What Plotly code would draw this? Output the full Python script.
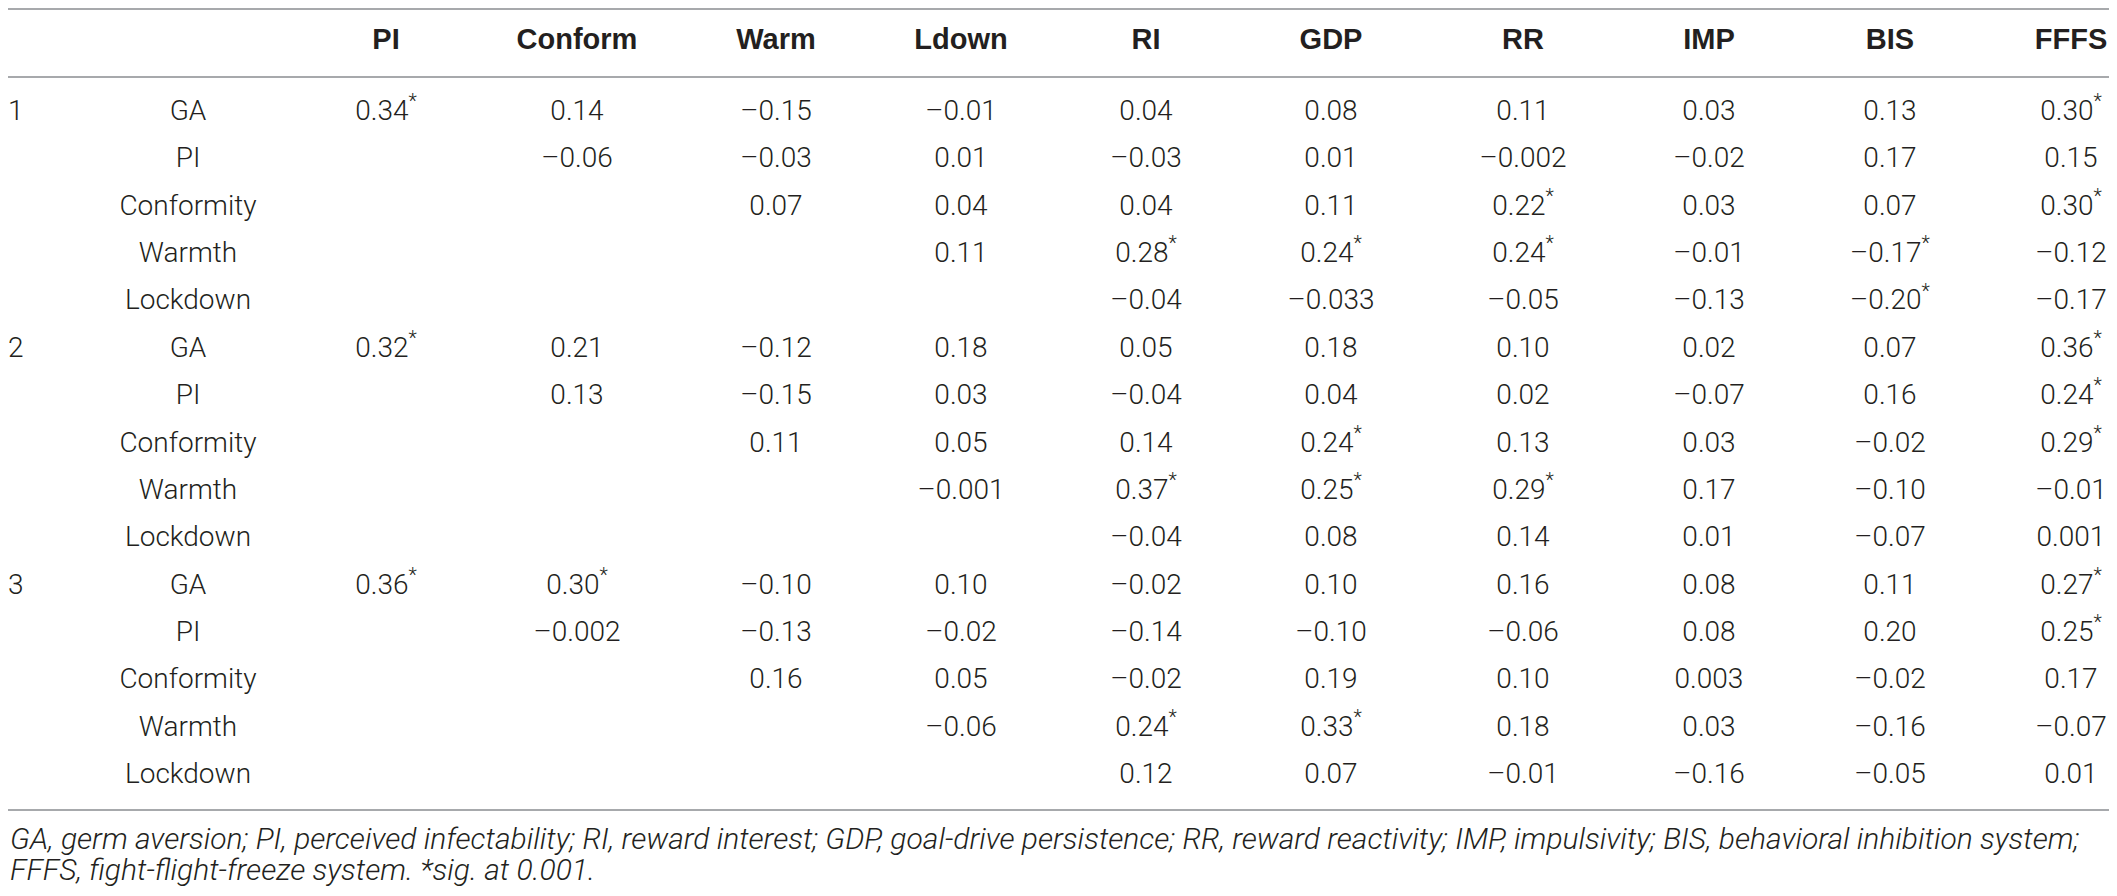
import plotly.graph_objects as go

# ---- data ----
columns = ["PI", "Conform", "Warm", "Ldown", "RI", "GDP", "RR", "IMP", "BIS", "FFFS"]
models = ["1", "2", "3"]
predictors = ["GA", "PI", "Conformity", "Warmth", "Lockdown"]

model1 = [
    ["0.34*", "0.14", "–0.15", "–0.01", "0.04", "0.08", "0.11", "0.03", "0.13", "0.30*"],
    ["", "–0.06", "–0.03", "0.01", "–0.03", "0.01", "–0.002", "–0.02", "0.17", "0.15"],
    ["", "", "0.07", "0.04", "0.04", "0.11", "0.22*", "0.03", "0.07", "0.30*"],
    ["", "", "", "0.11", "0.28*", "0.24*", "0.24*", "–0.01", "–0.17*", "–0.12"],
    ["", "", "", "", "–0.04", "–0.033", "–0.05", "–0.13", "–0.20*", "–0.17"],
]
model2 = [
    ["0.32*", "0.21", "–0.12", "0.18", "0.05", "0.18", "0.10", "0.02", "0.07", "0.36*"],
    ["", "0.13", "–0.15", "0.03", "–0.04", "0.04", "0.02", "–0.07", "0.16", "0.24*"],
    ["", "", "0.11", "0.05", "0.14", "0.24*", "0.13", "0.03", "–0.02", "0.29*"],
    ["", "", "", "–0.001", "0.37*", "0.25*", "0.29*", "0.17", "–0.10", "–0.01"],
    ["", "", "", "", "–0.04", "0.08", "0.14", "0.01", "–0.07", "0.001"],
]
model3 = [
    ["0.36*", "0.30*", "–0.10", "0.10", "–0.02", "0.10", "0.16", "0.08", "0.11", "0.27*"],
    ["", "–0.002", "–0.13", "–0.02", "–0.14", "–0.10", "–0.06", "0.08", "0.20", "0.25*"],
    ["", "", "0.16", "0.05", "–0.02", "0.19", "0.10", "0.003", "–0.02", "0.17"],
    ["", "", "", "–0.06", "0.24*", "0.33*", "0.18", "0.03", "–0.16", "–0.07"],
    ["", "", "", "", "0.12", "0.07", "–0.01", "–0.16", "–0.05", "0.01"],
]

footnote = [
    "GA, germ aversion; PI, perceived infectability; RI, reward interest; GDP, goal-drive persistence; "
    "RR, reward reactivity; IMP, impulsivity; BIS, behavioral inhibition system;",
    "FFFS, fight-flight-freeze system. *sig. at 0.001.",
]

# ---- layout (page pixels; page body has an 8px margin) ----
PAD = 8
W, H = 2117, 896
col_x = [386, 577, 776, 961, 1146, 1331, 1523, 1709, 1890, 2071]
label_x = 188
model_x = 8
header_y = 42
row_y0 = 113
row_step = 47.36
line_ys = [9, 77, 810]
foot_ys = [838, 869]

body_font = dict(family="Roboto, Liberation Sans, Arial", size=28, color="#231f20", weight=300)
head_font = dict(family="Liberation Sans, Arial", size=29, color="#231f20")


def fmt(v):
    return v.replace("*", "<sup>*</sup>")


fig = go.Figure()

# rules
for y in line_ys:
    fig.add_trace(go.Scatter(x=[PAD, 2112], y=[y, y], mode="lines", cliponaxis=False,
                             line=dict(color="#a7a9ac", width=2), hoverinfo="skip"))

# header
fig.add_trace(go.Scatter(x=col_x, y=[header_y] * len(columns), mode="text", cliponaxis=False,
                         text=["<b>%s</b>" % c for c in columns],
                         textposition="middle center", textfont=head_font))

# body
xs, ys, ts = [], [], []
lx, ly, lt = [], [], []
mx, my, mt = [], [], []
r = 0
for m, block in zip(models, [model1, model2, model3]):
    for i, (pred, vals) in enumerate(zip(predictors, block)):
        y = row_y0 + r * row_step
        if i == 0:
            mx.append(model_x); my.append(y); mt.append(m)
        lx.append(label_x); ly.append(y); lt.append(pred)
        for x, v in zip(col_x, vals):
            if v:
                xs.append(x); ys.append(y); ts.append(fmt(v))
        r += 1

fig.add_trace(go.Scatter(x=xs, y=ys, text=ts, mode="text", cliponaxis=False,
                         textposition="middle center", textfont=body_font))
fig.add_trace(go.Scatter(x=lx, y=ly, text=lt, mode="text", cliponaxis=False,
                         textposition="middle center", textfont=body_font))
fig.add_trace(go.Scatter(x=mx, y=my, text=mt, mode="text", cliponaxis=False,
                         textposition="middle right", textfont=body_font))

# footnote
for y, t in zip(foot_ys, footnote):
    fig.add_annotation(x=PAD, y=y, xref="x", yref="y", text="<i>%s</i>" % t,
                       xanchor="left", yanchor="middle", showarrow=False,
                       font=dict(family="Roboto, Liberation Sans, Arial", size=30,
                                 color="#231f20", weight=300))

fig.update_layout(
    width=W - 2 * PAD, height=H - 2 * PAD,
    margin=dict(l=0, r=0, t=0, b=0),
    paper_bgcolor="white", plot_bgcolor="white",
    showlegend=False,
    xaxis=dict(range=[PAD, W - PAD], visible=False, fixedrange=True),
    yaxis=dict(range=[H - PAD, PAD], visible=False, fixedrange=True),
)

fig.write_html("out.html")
